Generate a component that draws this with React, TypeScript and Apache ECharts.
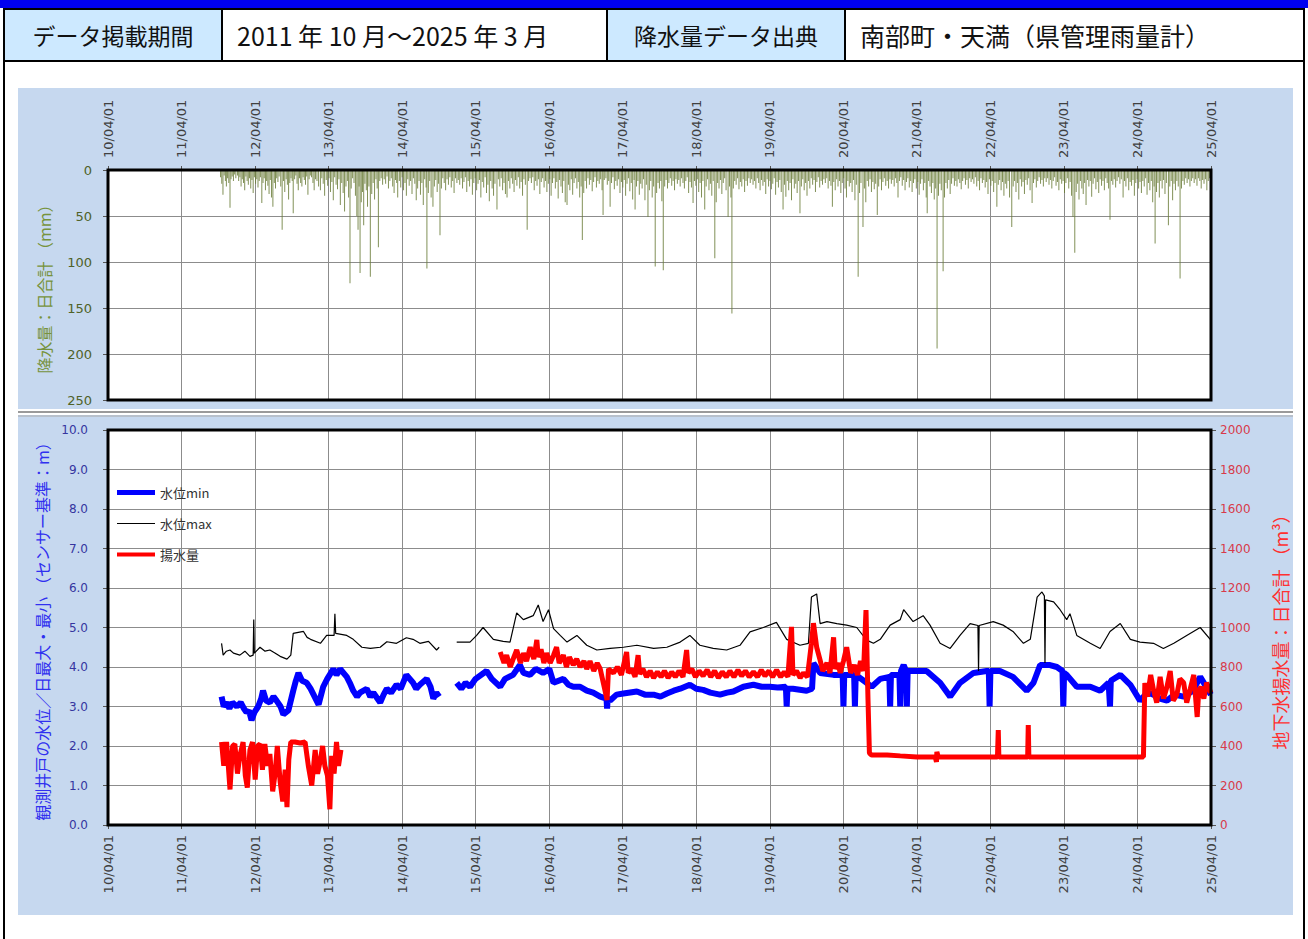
import React, { useEffect, useRef } from "react";
import * as echarts from "echarts";

// ---------- axis ticks ----------
const X_TICK_LABELS = [
  "10/04/01", "11/04/01", "12/04/01", "13/04/01", "14/04/01", "15/04/01", "16/04/01", "17/04/01",
  "18/04/01", "19/04/01", "20/04/01", "21/04/01", "22/04/01", "23/04/01", "24/04/01", "25/04/01",
];

// ---------- header ----------
const HEADER_LABEL_1 = "データ掲載期間";
const HEADER_VALUE_1 = "2011 年 10 月～2025 年 3 月";
const HEADER_LABEL_2 = "降水量データ出典";
const HEADER_VALUE_2 = "南部町・天満（県管理雨量計）";

// ---------- legend ----------
const LEGEND_NAMES = ["水位min", "水位max", "揚水量"];

// ---------- daily rainfall (mm), "MMDD:value" per calendar year ----------
const rain2011 = ["1012:8", "1018:15", "1024:27", "1030:6", "1105:12", "1110:18", "1116:9", "1122:14", "1128:41", "1203:10", "1209:7", "1215:12", "1221:5", "1227:9"];
const rain2012 = ["0104:6", "0110:12", "0116:8", "0122:18", "0128:10", "0203:14", "0209:22", "0215:7", "0221:12", "0227:16", "0304:9", "0310:20", "0316:11", "0322:25", "0328:8", "0403:15", "0409:10", "0415:19", "0421:12", "0427:8", "0504:36", "0510:14", "0516:9", "0522:22", "0528:12", "0603:17", "0609:26", "0615:11", "0621:30", "0628:40", "0705:14", "0711:20", "0717:9", "0723:13", "0729:7", "0806:18", "0813:65", "0820:12", "0826:24", "0902:10", "0908:16", "0914:32", "0920:14", "0926:9", "1002:12", "1007:47", "1014:10", "1020:6", "1026:15", "1101:22", "1107:9", "1113:14", "1119:18", "1125:8", "1201:11", "1207:16", "1213:7", "1219:27", "1225:10", "1231:6"];
const rain2013 = ["0106:8", "0113:14", "0119:22", "0126:10", "0202:12", "0210:18", "0219:22", "0226:9", "0305:15", "0312:28", "0320:11", "0327:17", "0403:9", "0410:24", "0417:13", "0424:33", "0501:8", "0508:16", "0515:21", "0522:10", "0529:38", "0605:14", "0612:25", "0619:45", "0626:18", "0703:12", "0709:30", "0716:123", "0722:20", "0729:9", "0805:14", "0812:28", "0819:50", "0825:65", "0830:18", "0904:112", "0910:35", "0916:24", "0922:60", "0928:15", "1005:22", "1011:40", "1018:18", "1025:116", "1101:26", "1108:14", "1115:32", "1122:10", "1128:20", "1204:84", "1211:12", "1218:9", "1225:16"];
const rain2014 = ["0102:10", "0109:15", "0116:7", "0123:20", "0130:12", "0206:9", "0213:18", "0220:25", "0227:11", "0305:14", "0310:30", "0318:12", "0325:19", "0401:8", "0408:22", "0415:14", "0422:28", "0429:10", "0506:17", "0513:12", "0520:26", "0527:9", "0603:15", "0610:33", "0617:20", "0624:12", "0701:27", "0708:14", "0715:38", "0722:10", "0729:19", "0802:107", "0809:25", "0816:12", "0823:30", "0901:40", "0908:18", "0915:11", "0922:24", "0929:15", "1006:71", "1013:20", "1020:9", "1027:14", "1103:22", "1110:10", "1117:16", "1124:8", "1201:19", "1208:12", "1215:25", "1222:9", "1229:14"];
const rain2015 = ["0105:11", "0112:16", "0119:9", "0126:20", "0202:13", "0209:8", "0216:24", "0223:12", "0302:18", "0309:10", "0316:27", "0323:14", "0330:9", "0406:22", "0413:15", "0420:11", "0427:30", "0504:13", "0511:19", "0518:8", "0525:25", "0601:16", "0608:34", "0615:12", "0622:20", "0629:28", "0706:15", "0716:43", "0723:10", "0730:18", "0806:9", "0813:22", "0820:14", "0827:26", "0904:30", "0911:12", "0918:20", "0925:9", "1002:15", "1009:24", "1016:11", "1023:17", "1030:8", "1106:20", "1113:13", "1120:28", "1127:10", "1204:16", "1213:65", "1220:12", "1227:9"];
const rain2016 = ["0103:14", "0110:8", "0117:22", "0124:12", "0131:17", "0207:10", "0214:26", "0221:13", "0228:9", "0306:19", "0313:12", "0320:24", "0327:15", "0403:10", "0410:28", "0417:14", "0424:9", "0501:20", "0508:13", "0515:31", "0522:11", "0529:18", "0605:25", "0612:12", "0619:35", "0628:38", "0705:16", "0712:22", "0719:10", "0726:27", "0802:14", "0809:9", "0816:20", "0823:13", "0830:30", "0906:18", "0912:76", "0919:25", "0926:12", "1003:20", "1010:9", "1017:16", "1024:11", "1031:23", "1107:13", "1114:8", "1121:19", "1128:12", "1205:15", "1212:10", "1219:22", "1224:49", "1230:11"];
const rain2017 = ["0107:9", "0114:16", "0121:12", "0128:40", "0204:14", "0211:8", "0218:21", "0225:12", "0304:17", "0311:10", "0318:25", "0325:13", "0401:19", "0408:11", "0415:28", "0422:15", "0429:9", "0506:23", "0513:14", "0520:32", "0527:11", "0601:43", "0608:18", "0615:12", "0622:27", "0629:15", "0706:20", "0713:10", "0720:33", "0727:16", "0804:51", "0811:22", "0818:12", "0825:30", "0901:18", "0909:105", "0916:25", "0923:14", "0930:20", "1007:12", "1012:34", "1019:109", "1026:18", "1102:11", "1109:20", "1116:14", "1123:9", "1130:17", "1207:12", "1214:22", "1221:10", "1228:15"];
const rain2018 = ["0104:11", "0111:18", "0118:9", "0125:14", "0201:20", "0208:12", "0215:8", "0222:25", "0301:13", "0308:19", "0316:36", "0323:12", "0330:17", "0406:10", "0413:24", "0420:14", "0427:30", "0504:12", "0513:43", "0520:18", "0527:10", "0603:22", "0610:15", "0617:28", "0624:12", "0702:96", "0709:35", "0716:14", "0723:20", "0730:11", "0806:26", "0813:14", "0820:9", "0827:22", "0906:51", "0913:18", "0920:30", "0925:156", "1002:20", "1009:12", "1016:16", "1023:9", "1030:21", "1106:13", "1113:18", "1120:10", "1127:24", "1204:12", "1211:17", "1218:9", "1225:14"];
const rain2019 = ["0101:10", "0108:16", "0115:12", "0122:20", "0129:9", "0205:14", "0212:22", "0219:11", "0226:17", "0305:13", "0312:26", "0319:10", "0326:18", "0402:12", "0409:21", "0416:15", "0423:9", "0430:27", "0507:13", "0514:19", "0521:11", "0528:24", "0606:43", "0613:16", "0620:29", "0627:12", "0704:22", "0711:14", "0718:33", "0725:10", "0801:20", "0808:15", "0815:25", "0822:12", "0829:47", "0905:18", "0912:10", "0919:22", "0926:14", "1003:28", "1010:12", "1017:20", "1024:9", "1031:16", "1107:11", "1114:24", "1121:13", "1128:8", "1205:19", "1212:12", "1219:16", "1226:10"];
const rain2020 = ["0102:14", "0109:9", "0116:20", "0123:12", "0130:17", "0206:40", "0213:13", "0220:22", "0227:10", "0305:18", "0312:12", "0319:25", "0326:14", "0402:9", "0409:20", "0416:30", "0423:12", "0430:18", "0507:14", "0514:24", "0521:11", "0528:33", "0604:16", "0613:116", "0620:25", "0627:14", "0707:62", "0714:20", "0721:35", "0728:12", "0804:18", "0811:10", "0818:24", "0825:13", "0901:21", "0908:15", "0916:49", "0923:18", "0930:10", "1007:22", "1014:13", "1021:9", "1028:17", "1104:12", "1111:20", "1118:10", "1125:15", "1202:11", "1209:18", "1216:9", "1222:14", "1228:30"];
const rain2021 = ["0104:12", "0111:8", "0118:17", "0125:11", "0201:22", "0208:13", "0215:9", "0222:19", "0301:12", "0308:24", "0315:14", "0322:10", "0329:20", "0405:13", "0412:27", "0419:15", "0426:10", "0503:22", "0510:14", "0517:30", "0522:47", "0529:12", "0605:18", "0612:25", "0619:14", "0626:32", "0703:20", "0710:194", "0717:28", "0724:15", "0731:22", "0809:110", "0816:30", "0823:14", "0830:20", "0906:11", "0913:26", "0920:15", "0927:9", "1004:17", "1011:12", "1017:18", "1024:10", "1031:14", "1107:21", "1114:12", "1121:9", "1128:16", "1205:11", "1212:20", "1219:9", "1226:13"];
const rain2022 = ["0102:10", "0109:15", "0116:8", "0123:18", "0130:12", "0206:22", "0213:9", "0220:14", "0227:11", "0306:19", "0313:13", "0320:26", "0327:10", "0403:17", "0410:12", "0417:24", "0424:14", "0503:40", "0510:16", "0517:11", "0524:22", "0531:13", "0607:28", "0614:15", "0621:20", "0628:12", "0705:30", "0716:62", "0723:18", "0730:12", "0806:24", "0813:14", "0820:32", "0827:10", "0903:18", "0910:13", "0917:26", "0924:11", "1001:16", "1008:9", "1015:22", "1025:36", "1101:14", "1108:10", "1115:19", "1122:12", "1129:8", "1206:15", "1213:11", "1220:18", "1227:9"];
const rain2023 = ["0103:13", "0110:9", "0117:16", "0124:11", "0131:20", "0207:12", "0214:8", "0221:17", "0228:13", "0307:22", "0314:10", "0321:15", "0328:12", "0404:25", "0411:14", "0418:9", "0425:20", "0502:13", "0509:28", "0516:51", "0525:90", "0601:24", "0608:15", "0615:32", "0622:12", "0629:20", "0706:26", "0713:14", "0720:38", "0727:11", "0803:18", "0810:12", "0817:29", "0824:15", "0831:9", "0907:21", "0914:13", "0921:25", "0928:10", "1005:17", "1012:12", "1019:22", "1026:9", "1102:14", "1109:20", "1116:54", "1123:12", "1130:16", "1207:10", "1214:19", "1221:12", "1228:8"];
const rain2024 = ["0104:15", "0111:10", "0120:30", "0127:12", "0203:18", "0210:9", "0217:22", "0224:13", "0302:17", "0309:11", "0316:28", "0323:14", "0330:10", "0406:20", "0413:13", "0420:25", "0427:12", "0504:18", "0511:9", "0518:27", "0525:14", "0601:22", "0608:12", "0615:35", "0622:18", "0627:80", "0704:24", "0711:14", "0718:30", "0725:12", "0801:20", "0808:11", "0815:26", "0822:14", "0901:60", "0908:18", "0915:12", "0922:33", "0929:15", "1006:22", "1013:12", "1020:18", "1029:118", "1105:20", "1112:12", "1119:16", "1126:9", "1203:14", "1210:10", "1217:18", "1224:12", "1231:9"];
const rain2025 = ["0107:14", "0114:10", "0121:17", "0128:9", "0204:12", "0211:20", "0218:11", "0225:15", "0304:10", "0311:22", "0318:12", "0325:9"];

// ---------- observation well water level (m): daily min ----------
const levelMin: [string, number | null][] = [
  ["2011-10-17", 3.25], ["2011-10-28", 3.0], ["2011-11-11", 3.1], ["2011-11-25", 2.95], ["2011-12-10", 3.1],
  ["2012-01-01", 3.0], ["2012-01-20", 3.1], ["2012-02-05", 2.95], ["2012-02-18", 2.85], ["2012-03-01", 2.9],
  ["2012-03-14", 2.65], ["2012-03-28", 2.85], ["2012-04-16", 3.0], ["2012-05-01", 3.2], ["2012-05-10", 3.4],
  ["2012-05-25", 3.15], ["2012-06-13", 3.1], ["2012-07-01", 3.25], ["2012-07-16", 3.15], ["2012-08-05", 3.0],
  ["2012-08-19", 2.8], ["2012-09-13", 2.9], ["2012-10-07", 3.4], ["2012-10-20", 3.65], ["2012-11-02", 3.85],
  ["2012-11-20", 3.65], ["2012-12-13", 3.6], ["2013-01-01", 3.45], ["2013-01-16", 3.3], ["2013-02-10", 3.05],
  ["2013-03-05", 3.5], ["2013-03-25", 3.7], ["2013-04-24", 3.95], ["2013-05-10", 3.8], ["2013-05-28", 3.95],
  ["2013-06-30", 3.75], ["2013-07-15", 3.6], ["2013-08-01", 3.4], ["2013-08-20", 3.25], ["2013-09-04", 3.35],
  ["2013-10-07", 3.45], ["2013-10-25", 3.25], ["2013-11-09", 3.35], ["2013-12-13", 3.1], ["2013-12-30", 3.3],
  ["2014-01-15", 3.45], ["2014-02-05", 3.35], ["2014-03-04", 3.55], ["2014-03-25", 3.45], ["2014-04-22", 3.8],
  ["2014-05-25", 3.6], ["2014-06-10", 3.45], ["2014-06-28", 3.55], ["2014-08-01", 3.7], ["2014-08-20", 3.5],
  ["2014-09-03", 3.2], ["2014-09-18", 3.35], ["2014-10-02", 3.25],
  ["2014-11-15", null],
  ["2014-12-28", 3.6], ["2015-01-20", 3.45], ["2015-02-10", 3.6], ["2015-03-04", 3.5], ["2015-04-01", 3.7],
  ["2015-05-25", 3.9], ["2015-06-20", 3.7], ["2015-08-01", 3.5], ["2015-08-25", 3.7], ["2015-10-04", 3.8],
  ["2015-11-07", 4.05], ["2015-11-25", 3.85], ["2015-12-27", 3.8], ["2016-01-25", 3.95], ["2016-03-01", 3.85],
  ["2016-04-01", 3.95], ["2016-04-22", 3.6], ["2016-06-10", 3.7], ["2016-07-05", 3.55], ["2016-07-29", 3.5],
  ["2016-09-01", 3.5], ["2016-10-04", 3.4], ["2016-11-05", 3.35], ["2016-12-10", 3.25], ["2017-01-10", 3.2],
  ["2017-01-13", 2.95], ["2017-01-16", 3.2], ["2017-01-28", 3.15], ["2017-03-01", 3.3], ["2017-04-04", 3.33],
  ["2017-06-10", 3.38], ["2017-07-20", 3.3], ["2017-09-01", 3.3], ["2017-10-05", 3.25], ["2017-11-06", 3.33],
  ["2017-12-10", 3.4], ["2018-01-11", 3.45], ["2018-02-28", 3.55], ["2018-04-01", 3.45], ["2018-05-05", 3.42],
  ["2018-06-10", 3.35], ["2018-07-28", 3.3], ["2018-09-01", 3.35], ["2018-10-02", 3.38], ["2018-11-21", 3.5],
  ["2019-01-10", 3.55], ["2019-02-20", 3.5], ["2019-04-01", 3.5], ["2019-05-10", 3.48], ["2019-06-20", 3.5],
  ["2019-06-24", 3.0], ["2019-06-28", 3.45], ["2019-07-25", 3.45], ["2019-10-01", 3.4], ["2019-10-28", 3.45],
  ["2019-11-04", 4.1], ["2019-12-07", 3.85], ["2020-02-12", 3.8], ["2020-03-28", 3.8], ["2020-04-01", 3.0],
  ["2020-04-05", 3.8], ["2020-05-24", 3.8], ["2020-05-28", 3.0], ["2020-06-01", 3.8], ["2020-07-25", 3.6],
  ["2020-08-19", 3.5], ["2020-10-01", 3.7], ["2020-11-15", 3.75], ["2020-11-19", 3.0], ["2020-11-23", 3.8],
  ["2021-01-04", 3.8], ["2021-01-08", 3.0], ["2021-01-12", 3.9], ["2021-01-25", 4.05], ["2021-02-06", 3.9],
  ["2021-02-10", 3.0], ["2021-02-14", 3.9], ["2021-04-01", 3.9], ["2021-05-19", 3.9], ["2021-07-25", 3.6],
  ["2021-09-13", 3.25], ["2021-11-01", 3.6], ["2022-01-07", 3.85], ["2022-03-13", 3.9], ["2022-03-24", 3.9],
  ["2022-03-28", 3.0], ["2022-04-01", 3.9], ["2022-05-18", 3.9], ["2022-07-22", 3.75], ["2022-09-28", 3.4],
  ["2022-11-01", 3.6], ["2022-12-04", 4.05], ["2023-01-22", 4.05], ["2023-02-25", 4.0], ["2023-03-25", 3.9],
  ["2023-03-29", 3.0], ["2023-04-02", 3.85], ["2023-04-15", 3.8], ["2023-06-04", 3.5], ["2023-08-10", 3.5],
  ["2023-09-28", 3.4], ["2023-11-09", 3.6], ["2023-11-16", 3.0], ["2023-11-20", 3.65], ["2024-01-06", 3.8],
  ["2024-02-25", 3.55], ["2024-04-13", 3.15], ["2024-05-20", 3.35], ["2024-06-19", 3.3], ["2024-07-20", 3.2],
  ["2024-08-25", 3.15], ["2024-10-01", 3.3], ["2024-11-16", 3.25], ["2025-01-01", 3.4], ["2025-02-06", 3.75],
  ["2025-03-31", 3.3],
];

// ---------- observation well water level (m): daily max ----------
const levelMax: [string, number | null][] = [
  ["2011-10-17", 4.6], ["2011-10-25", 4.3], ["2011-11-10", 4.4], ["2011-11-28", 4.43], ["2011-12-15", 4.35],
  ["2012-01-16", 4.3], ["2012-02-10", 4.4], ["2012-03-06", 4.27], ["2012-03-22", 4.3], ["2012-03-25", 5.2],
  ["2012-03-28", 4.35], ["2012-04-25", 4.5], ["2012-05-20", 4.4], ["2012-06-13", 4.43], ["2012-07-10", 4.35],
  ["2012-08-03", 4.27], ["2012-09-06", 4.2], ["2012-09-25", 4.3], ["2012-10-07", 4.85], ["2012-11-27", 4.9],
  ["2012-12-15", 4.75], ["2013-01-01", 4.7], ["2013-02-19", 4.6], ["2013-03-22", 4.8], ["2013-04-28", 4.8],
  ["2013-05-02", 5.35], ["2013-05-06", 4.85], ["2013-06-30", 4.8], ["2013-08-01", 4.7], ["2013-09-13", 4.5],
  ["2013-10-25", 4.47], ["2013-12-13", 4.5], ["2014-01-15", 4.64], ["2014-03-04", 4.6], ["2014-04-22", 4.74],
  ["2014-05-25", 4.7], ["2014-06-28", 4.6], ["2014-08-10", 4.65], ["2014-09-19", 4.43], ["2014-10-02", 4.5],
  ["2014-11-15", null],
  ["2014-12-28", 4.63], ["2015-03-04", 4.63], ["2015-04-06", 4.8], ["2015-05-08", 5.0], ["2015-06-28", 4.7],
  ["2015-08-16", 4.65], ["2015-09-19", 4.63], ["2015-10-22", 5.37], ["2015-11-24", 5.2], ["2016-01-12", 5.3],
  ["2016-02-06", 5.57], ["2016-03-01", 5.15], ["2016-03-28", 5.45], ["2016-04-22", 4.97], ["2016-05-25", 4.8],
  ["2016-06-28", 4.63], ["2016-08-16", 4.8], ["2016-10-04", 4.55], ["2016-11-23", 4.43], ["2017-01-28", 4.47],
  ["2017-04-04", 4.5], ["2017-06-10", 4.55], ["2017-09-01", 4.47], ["2017-11-06", 4.5], ["2018-01-11", 4.63],
  ["2018-02-28", 4.8], ["2018-04-19", 4.55], ["2018-06-24", 4.47], ["2018-08-30", 4.43], ["2018-11-04", 4.55],
  ["2018-12-24", 4.89], ["2019-02-28", 5.0], ["2019-05-04", 5.13], ["2019-06-24", 4.7], ["2019-08-29", 4.55],
  ["2019-10-10", 4.6], ["2019-10-25", 5.77], ["2019-11-20", 5.85], ["2019-12-07", 5.1], ["2020-01-10", 5.15],
  ["2020-02-28", 5.1], ["2020-04-17", 5.06], ["2020-06-06", 5.0], ["2020-07-25", 4.68], ["2020-08-28", 4.6],
  ["2020-10-01", 4.7], ["2020-11-19", 5.06], ["2021-01-08", 5.2], ["2021-01-25", 5.45], ["2021-03-13", 5.15],
  ["2021-05-02", 5.3], ["2021-06-05", 5.06], ["2021-07-25", 4.6], ["2021-09-13", 4.47], ["2021-11-01", 4.8],
  ["2021-12-21", 5.1], ["2022-01-29", 5.05], ["2022-02-01", 3.9], ["2022-02-04", 5.05], ["2022-04-15", 5.15],
  ["2022-06-03", 5.06], ["2022-07-22", 4.9], ["2022-09-12", 4.6], ["2022-10-16", 4.7], ["2022-11-19", 5.77],
  ["2022-12-13", 5.9], ["2022-12-25", 5.8], ["2022-12-28", 4.1], ["2022-12-31", 5.7], ["2023-02-09", 5.65],
  ["2023-03-13", 5.45], ["2023-04-15", 5.2], ["2023-05-01", 5.35], ["2023-06-04", 4.8], ["2023-08-10", 4.6],
  ["2023-09-28", 4.47], ["2023-11-16", 4.9], ["2024-01-06", 5.1], ["2024-02-25", 4.7], ["2024-04-13", 4.63],
  ["2024-06-19", 4.6], ["2024-08-07", 4.47], ["2024-09-28", 4.6], ["2024-12-01", 4.8], ["2025-02-06", 5.0],
  ["2025-03-31", 4.68],
];

// ---------- groundwater pumping, daily total (m3) ----------
const pumping: [string, number | null][] = [
  ["2011-10-17", 420], ["2011-10-28", 300], ["2011-11-11", 420], ["2011-11-28", 180], ["2011-12-11", 400],
  ["2011-12-22", 410], ["2012-01-04", 260], ["2012-01-16", 350], ["2012-02-01", 420], ["2012-02-12", 250],
  ["2012-02-22", 190], ["2012-03-06", 380], ["2012-03-19", 420], ["2012-04-01", 230], ["2012-04-13", 400],
  ["2012-04-25", 410], ["2012-05-07", 280], ["2012-05-19", 410], ["2012-06-01", 300], ["2012-06-13", 360],
  ["2012-06-27", 170], ["2012-07-09", 260], ["2012-07-20", 400], ["2012-08-03", 220], ["2012-08-16", 120],
  ["2012-08-28", 280], ["2012-09-06", 90], ["2012-09-15", 330], ["2012-09-25", 420], ["2012-10-16", 420],
  ["2012-11-10", 415], ["2012-12-05", 420], ["2012-12-21", 300], ["2013-01-07", 200], ["2013-01-24", 380],
  ["2013-02-05", 260], ["2013-02-19", 330], ["2013-03-02", 400], ["2013-03-13", 300], ["2013-03-26", 250],
  ["2013-04-07", 80], ["2013-04-16", 350], ["2013-04-28", 260], ["2013-05-10", 420], ["2013-05-20", 300],
  ["2013-06-01", 380],
  ["2014-06-01", null],
  ["2015-08-01", 876], ["2015-08-20", 820], ["2015-09-02", 860], ["2015-09-20", 800], ["2015-10-08", 850],
  ["2015-10-22", 886], ["2015-11-10", 820], ["2015-11-25", 870], ["2015-12-10", 830], ["2015-12-28", 900],
  ["2016-01-15", 840], ["2016-01-30", 937], ["2016-02-06", 850], ["2016-02-20", 890], ["2016-03-05", 820],
  ["2016-03-19", 870], ["2016-04-05", 820], ["2016-04-22", 860], ["2016-05-07", 900], ["2016-05-20", 820],
  ["2016-06-10", 860], ["2016-06-25", 800], ["2016-07-10", 850], ["2016-07-29", 810], ["2016-08-15", 840],
  ["2016-09-01", 800], ["2016-09-20", 830], ["2016-10-04", 790], ["2016-10-20", 830], ["2016-11-08", 780],
  ["2016-11-25", 820], ["2016-12-10", 790], ["2017-01-13", 633], ["2017-01-20", 790], ["2017-02-14", 770],
  ["2017-03-05", 800], ["2017-03-25", 760], ["2017-04-20", 876], ["2017-04-28", 770], ["2017-05-15", 790],
  ["2017-06-01", 750], ["2017-06-16", 860], ["2017-06-24", 765], ["2017-07-10", 790], ["2017-07-28", 750],
  ["2017-08-15", 780], ["2017-09-01", 745], ["2017-09-20", 775], ["2017-10-08", 750], ["2017-10-25", 780],
  ["2017-11-12", 745], ["2017-11-30", 775], ["2017-12-18", 750], ["2018-01-05", 780], ["2018-01-25", 750],
  ["2018-02-12", 886], ["2018-02-20", 770], ["2018-03-10", 790], ["2018-03-28", 750], ["2018-04-15", 780],
  ["2018-05-05", 755], ["2018-05-25", 785], ["2018-06-12", 750], ["2018-07-01", 780], ["2018-07-20", 745],
  ["2018-08-08", 775], ["2018-08-28", 750], ["2018-09-15", 780], ["2018-10-05", 750], ["2018-10-25", 785],
  ["2018-11-12", 755], ["2018-12-01", 780], ["2018-12-20", 750], ["2019-01-10", 775], ["2019-01-30", 750],
  ["2019-02-18", 785], ["2019-03-08", 755], ["2019-03-28", 780], ["2019-04-15", 750], ["2019-05-05", 785],
  ["2019-05-25", 750], ["2019-06-12", 775], ["2019-06-30", 750], ["2019-07-18", 1003], ["2019-07-25", 760],
  ["2019-08-12", 780], ["2019-08-30", 745], ["2019-09-15", 770], ["2019-10-05", 750], ["2019-10-25", 920],
  ["2019-11-04", 1022], ["2019-11-20", 900], ["2019-12-07", 835], ["2019-12-20", 780], ["2020-01-10", 820],
  ["2020-01-25", 770], ["2020-02-12", 950], ["2020-02-20", 790], ["2020-03-05", 820], ["2020-03-16", 770],
  ["2020-04-01", 830], ["2020-04-17", 900], ["2020-05-07", 770], ["2020-05-25", 810], ["2020-06-10", 760],
  ["2020-06-25", 830], ["2020-07-10", 780], ["2020-07-22", 1088], ["2020-08-01", 633], ["2020-08-08", 364],
  ["2020-08-19", 354], ["2020-11-04", 355], ["2021-01-08", 350], ["2021-04-01", 344], ["2021-07-01", 344],
  ["2021-07-07", 320], ["2021-07-09", 370], ["2021-07-16", 344], ["2021-12-04", 344], ["2022-05-06", 344],
  ["2022-05-10", 481], ["2022-05-13", 344], ["2022-10-03", 344], ["2022-10-06", 506], ["2022-10-09", 344],
  ["2023-04-15", 344], ["2023-09-28", 344], ["2024-04-30", 344],
  ["2024-05-07", 719], ["2024-05-20", 650], ["2024-06-05", 760], ["2024-06-19", 684], ["2024-07-05", 620],
  ["2024-07-22", 750], ["2024-08-08", 640], ["2024-08-25", 700], ["2024-09-10", 780], ["2024-09-25", 630],
  ["2024-10-13", 660], ["2024-10-28", 740], ["2024-11-16", 720], ["2024-12-01", 620], ["2024-12-19", 690],
  ["2025-01-05", 760], ["2025-01-22", 547], ["2025-01-30", 680], ["2025-02-10", 700], ["2025-02-24", 640],
  ["2025-03-10", 720], ["2025-03-31", 670],
];

// ---------- helpers ----------
const BASE = Date.UTC(2010, 3, 1);
const YEAR_MS = 365.2425 * 86400000;
const toX = (d: string) => (Date.parse(d + "T00:00:00Z") - BASE) / YEAR_MS;

const rainByYear: [number, string[]][] = [
  [2011, rain2011], [2012, rain2012], [2013, rain2013], [2014, rain2014], [2015, rain2015],
  [2016, rain2016], [2017, rain2017], [2018, rain2018], [2019, rain2019], [2020, rain2020],
  [2021, rain2021], [2022, rain2022], [2023, rain2023], [2024, rain2024], [2025, rain2025],
];

const buildRain = () => {
  const out: [number, number][] = [];
  rainByYear.forEach(([y, arr]) => {
    arr.forEach((s) => {
      const [md, v] = s.split(":");
      out.push([toX(`${y}-${md.slice(0, 2)}-${md.slice(2, 4)}`), Number(v)]);
    });
  });
  return out;
};

const buildLine = (arr: [string, number | null][]) =>
  arr.map(([d, v]) => [toX(d), v === null ? "-" : v]);

// ---------- layout ----------
const G1 = { left: 108, top: 170, width: 1103, height: 230 };
const G2 = { left: 108, top: 430, width: 1103, height: 395 };
const PANEL = "#c6d8ef";
const LATIN = "'DejaVu Sans', 'Noto Sans CJK JP', sans-serif";
const CJK = "'Noto Sans CJK JP', sans-serif";

const xLabelFmt = (v: number) => X_TICK_LABELS[Math.round(v)] ?? "";

export default function App() {
  const ref = useRef<HTMLDivElement>(null);

  useEffect(() => {
    if (!ref.current) return;
    const chart = echarts.init(ref.current, undefined, { renderer: "svg" });

    const gridLine = { show: true, lineStyle: { color: "#8c8c8c", width: 1 }, showMinLine: false, showMaxLine: false };

    const option: any = {
      animation: false,
      textStyle: { fontFamily: LATIN },
      graphic: {
        elements: [
          { type: "rect", shape: { x: 0, y: 0, width: 1308, height: 8 }, style: { fill: "#0000f0" }, z: 1 },
          { type: "rect", shape: { x: 4, y: 9, width: 218, height: 52 }, style: { fill: "#cde9ff", stroke: "#000", lineWidth: 2 }, z: 1 },
          { type: "rect", shape: { x: 222, y: 9, width: 385, height: 52 }, style: { fill: "#fff", stroke: "#000", lineWidth: 2 }, z: 1 },
          { type: "rect", shape: { x: 607, y: 9, width: 238, height: 52 }, style: { fill: "#cde9ff", stroke: "#000", lineWidth: 2 }, z: 1 },
          { type: "rect", shape: { x: 845, y: 9, width: 459, height: 52 }, style: { fill: "#fff", stroke: "#000", lineWidth: 2 }, z: 1 },
          { type: "text", x: 113, y: 35, style: { text: HEADER_LABEL_1, font: `23px ${CJK}`, fill: "#111", align: "center", verticalAlign: "middle" }, z: 2 },
          { type: "text", x: 237, y: 35, style: { text: HEADER_VALUE_1, font: `25px ${CJK}`, fill: "#111", align: "left", verticalAlign: "middle" }, z: 2 },
          { type: "text", x: 726, y: 35, style: { text: HEADER_LABEL_2, font: `23px ${CJK}`, fill: "#111", align: "center", verticalAlign: "middle" }, z: 2 },
          { type: "text", x: 860, y: 35, style: { text: HEADER_VALUE_2, font: `25px ${CJK}`, fill: "#111", align: "left", verticalAlign: "middle" }, z: 2 },
          { type: "line", shape: { x1: 4, y1: 8, x2: 4, y2: 939 }, style: { stroke: "#000", lineWidth: 2 }, z: 1 },
          { type: "line", shape: { x1: 1304, y1: 8, x2: 1304, y2: 939 }, style: { stroke: "#000", lineWidth: 2 }, z: 1 },
          { type: "rect", shape: { x: 18, y: 88, width: 1275, height: 321 }, style: { fill: PANEL }, z: -10 },
          { type: "line", shape: { x1: 18, y1: 412, x2: 1293, y2: 412 }, style: { stroke: "#9a9a9a", lineWidth: 2 }, z: -10 },
          { type: "rect", shape: { x: 18, y: 415, width: 1275, height: 500 }, style: { fill: PANEL }, z: -10 },
          { type: "line", shape: { x1: 18, y1: 416, x2: 1293, y2: 416 }, style: { stroke: "#a8a8a8", lineWidth: 1 }, z: -10 },
          { type: "rect", shape: { x: G1.left, y: G1.top, width: G1.width, height: G1.height }, style: { fill: "none", stroke: "#000", lineWidth: 3 }, z: 50 },
          { type: "rect", shape: { x: G2.left, y: G2.top, width: G2.width, height: G2.height }, style: { fill: "none", stroke: "#000", lineWidth: 3 }, z: 50 },
        ],
      },
      legend: {
        data: [
          { name: LEGEND_NAMES[0], icon: "path://M0,0H38V5H0Z" },
          { name: LEGEND_NAMES[1], icon: "path://M0,0H38V1.2H0Z" },
          { name: LEGEND_NAMES[2], icon: "path://M0,0H38V4H0Z" },
        ],
        orient: "vertical",
        left: 117,
        top: 486,
        itemWidth: 38,
        itemHeight: 12,
        itemGap: 18,
        padding: 0,
        symbolKeepAspect: true,
        textStyle: { fontSize: 13, color: "#333", fontFamily: CJK },
      },
      grid: [
        { ...G1, show: true, backgroundColor: "#fff", borderWidth: 0 },
        { ...G2, show: true, backgroundColor: "#fff", borderWidth: 0 },
      ],
      xAxis: [
        {
          type: "value", gridIndex: 0, position: "top", min: 0, max: 15, interval: 1,
          axisLine: { show: false },
          axisTick: { show: true, length: 4, lineStyle: { color: "#555" } },
          axisLabel: { rotate: 90, margin: 12, color: "#404040", fontSize: 13, formatter: xLabelFmt, showMinLabel: true, showMaxLabel: true },
          splitLine: gridLine,
        },
        {
          type: "value", gridIndex: 1, position: "bottom", min: 0, max: 15, interval: 1,
          axisLine: { show: false },
          axisTick: { show: true, length: 4, lineStyle: { color: "#555" } },
          axisLabel: { rotate: 90, margin: 10, color: "#404040", fontSize: 13, formatter: xLabelFmt, showMinLabel: true, showMaxLabel: true },
          splitLine: gridLine,
        },
      ],
      yAxis: [
        {
          type: "value", gridIndex: 0, inverse: true, min: 0, max: 250, interval: 50,
          name: "降水量：日合計 （mm）", nameLocation: "middle", nameRotate: 90, nameGap: 56,
          nameTextStyle: { color: "#77933c", fontSize: 16, fontFamily: CJK },
          axisLine: { show: false },
          axisTick: { show: true, length: 5, lineStyle: { color: "#555" } },
          axisLabel: { margin: 16, color: "#4f6228", fontSize: 13 },
          splitLine: gridLine,
        },
        {
          type: "value", gridIndex: 1, min: 0, max: 10, interval: 1,
          name: "観測井戸の水位／日最大・最小 （センサー基準：m）", nameLocation: "middle", nameRotate: 90, nameGap: 58,
          nameTextStyle: { color: "#3030f0", fontSize: 16, fontFamily: CJK },
          axisLine: { show: false },
          axisTick: { show: true, length: 5, lineStyle: { color: "#555" } },
          axisLabel: { margin: 20, color: "#35359f", fontSize: 12, formatter: (v: number) => v.toFixed(1) },
          splitLine: gridLine,
        },
        {
          type: "value", gridIndex: 1, position: "right", min: 0, max: 2000, interval: 200,
          name: "地下水揚水量：日合計 （m³）", nameLocation: "middle", nameRotate: 90, nameGap: 60,
          nameTextStyle: { color: "#ff3030", fontSize: 18, fontFamily: CJK },
          axisLine: { show: false },
          axisTick: { show: true, length: 5, lineStyle: { color: "#555" } },
          axisLabel: { margin: 9, color: "#d83a4a", fontSize: 12, formatter: (v: number) => String(v) },
          splitLine: { show: false },
        },
      ],
      series: [
        {
          type: "bar", name: "降水量", xAxisIndex: 0, yAxisIndex: 0, data: buildRain(),
          barWidth: 1, itemStyle: { color: "#6b7d3a", opacity: 0.85 }, legendHoverLink: false,
        },
        {
          type: "line", name: LEGEND_NAMES[0], xAxisIndex: 1, yAxisIndex: 1, data: buildLine(levelMin),
          symbol: "none", showSymbol: false, connectNulls: false,
          lineStyle: { color: "#0000ff", width: 6 }, itemStyle: { color: "#0000ff" },
        },
        {
          type: "line", name: LEGEND_NAMES[1], xAxisIndex: 1, yAxisIndex: 1, data: buildLine(levelMax),
          symbol: "none", showSymbol: false, connectNulls: false,
          lineStyle: { color: "#000000", width: 1.2 }, itemStyle: { color: "#000000" },
        },
        {
          type: "line", name: LEGEND_NAMES[2], xAxisIndex: 1, yAxisIndex: 2, data: buildLine(pumping),
          symbol: "none", showSymbol: false, connectNulls: false,
          lineStyle: { color: "#ff0000", width: 5 }, itemStyle: { color: "#ff0000" },
        },
      ],
    };

    chart.setOption(option);
    return () => chart.dispose();
  }, []);

  return (
    <div
      ref={ref}
      style={{ position: "absolute", left: 0, top: 0, width: 1308, height: 939, background: "#fff" }}
    />
  );
}
